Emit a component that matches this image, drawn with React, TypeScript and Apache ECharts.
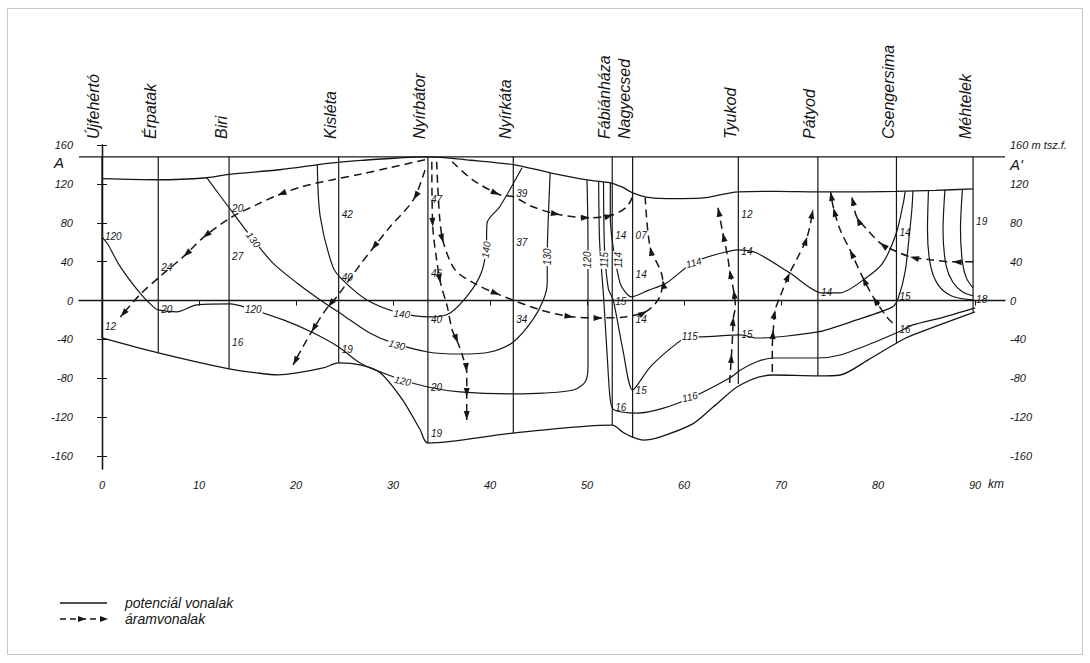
import React, { useEffect, useRef } from "react";
import * as echarts from "echarts";

type P = [number, number];

// ---------- axes ----------
const kmTicks = [0, 10, 20, 30, 40, 50, 60, 70, 80, 90];
const elevTicks = [-160, -120, -80, -40, 0, 40, 80, 120, 160];
const kmMin = -2.371;
const kmMax = 93.09;
const elevMin = -173.4;
const elevMax = 160.2;

// ---------- wells (boreholes) ----------
const towns = ["Újfehértó", "Érpatak", "Biri", "Kisléta", "Nyírbátor", "Nyírkáta", "Fábiánháza", "Nagyecsed", "Tyukod", "Pátyod", "Csengersima", "Méhtelek"];
const wellKm = [0, 5.8, 13.1, 24.4, 33.6, 42.4, 52.6, 54.7, 65.6, 73.8, 81.9, 89.8];
const wellBottom = [-38.5, -53.9, -70.4, -64.2, -146.7, -136.4, -128.2, -140.5, -85.9, -77.6, -43.6, -11.6];
const datumElev = 148;

// ---------- boundaries ----------
const surface: P[] = [[0, 125.5], [5.8, 124.4], [10.8, 126.5], [13.1, 130], [18.3, 134.7], [23.5, 141.5], [27, 144.5], [30.5, 146.8], [33.6, 148], [38, 144.5], [42.4, 140], [46.2, 131.6], [50, 124.4], [52.4, 121.3], [53.6, 117], [54.7, 111], [56.5, 106], [59, 105], [61.7, 105.5], [65.6, 112], [69.7, 112.5], [73.7, 112], [77.8, 112], [81.9, 112.5], [85.9, 113.5], [89.8, 115]];
const aquiferBase: P[] = [[0, -38.5], [5.8, -53.9], [13.1, -70.4], [16, -74.5], [18.1, -76.4], [20.1, -74.5], [22.8, -69.4], [24.4, -64.2], [26.6, -66.3], [28.7, -74.5], [31, -102.4], [32.8, -133], [33.6, -146.7], [42.4, -136.4], [52.6, -128.2], [53.7, -135.5], [54.7, -140.5], [55.8, -143.6], [57.5, -140.5], [60.9, -127], [63, -109.6], [65.8, -86.9], [69.2, -76.6], [73.8, -77.6], [76.1, -76.6], [78.9, -61.5], [82.1, -42.6], [83.6, -35.4], [90, -11.6]];

// ---------- potential lines (potenciál vonalak) ----------
const pot120: P[] = [[0, 65.7], [0.6, 58], [1.9, 34.7], [3.9, 7.9], [5.3, -6.5], [5.8, -9.6], [7.7, -11.6], [9.8, -4.4], [13.2, -3.4], [15.3, -8.6], [18.7, -19.9], [21.6, -32.3], [24.4, -47.7], [26.6, -64.2], [30.4, -79.7], [33.6, -89], [36.9, -94], [42.4, -96], [45.5, -95.2], [48.6, -92.1], [49.8, -83.8], [50.1, -68], [50.1, 0.7], [50.1, 60], [50, 124.4]];
const pot130: P[] = [[10.8, 126.5], [13.1, 95.6], [15.6, 62.6], [17.6, 38.9], [20.1, 18.2], [22.5, 0.7], [25, -16], [27.6, -33.3], [30, -43.6], [33.6, -52.9], [36.9, -55], [40, -52.9], [42.4, -42.6], [44.4, -19.9], [45.5, 0.7], [45.9, 18.2], [45.9, 45.1], [46, 83], [46.2, 131.6]];
const pot140: P[] = [[22.2, 140], [22.5, 86.3], [23.8, 34.7], [24.8, 21.3], [27.3, 0.7], [30.7, -12.7], [33.9, -16.8], [35.9, -12.7], [37.9, 7.9], [39.1, 28.6], [39.6, 52.3], [39.7, 80], [41, 96.6], [43.3, 136.8]];
const pot116: P[] = [[51.2, 122.5], [51.3, 60], [51.7, 5], [52.1, -60], [52.4, -102.4], [52.8, -112.7], [55.2, -115.8], [57.8, -111], [60.9, -99.3], [64.7, -79.7], [65.8, -71.7], [67.5, -63], [69.2, -59.1], [73.8, -59.1], [76.1, -56], [79.1, -45], [82.1, -32.3], [83.6, -25], [86.8, -17], [90, -7.5]];
const pot115: P[] = [[51.7, 122], [51.8, 55], [52.2, 12], [52.7, 0.7], [53.7, -50.8], [54.7, -92.1], [56.5, -68.5], [59.3, -43.8], [60.6, -37.4], [61.6, -37.4], [65.8, -35.4], [67.5, -38.5], [73.8, -32.3], [77.8, -19.9], [81.5, -6.5], [82.1, 3], [82.8, 30], [83.2, 65], [83.5, 95], [83.6, 113]];
const pot114: P[] = [[52.4, 121.3], [52.4, 86.3], [53.4, 18.2], [54.6, 3.8], [56.3, 10.5], [58.2, 18.2], [60.9, 38.9], [63.3, 47.5], [65.6, 52.3], [67.5, 49], [70.9, 28.6], [74.2, 7.9], [76.1, 7.9], [78.9, 24.4], [80.5, 38.9], [81.9, 69.8], [82.6, 100], [82.8, 112.5]];
const potFanA: P[] = [[85.2, 113.5], [85.1, 72.9], [85.4, 36.8], [86.2, 16.2], [87.6, 4.8], [89.8, 0.7]];
const potFanB: P[] = [[86.9, 114], [86.7, 72.9], [87, 36.8], [87.7, 19.2], [88.7, 9], [89.8, 4.8]];
const potFanC: P[] = [[88.7, 114.5], [88.5, 72.9], [88.7, 39.9], [89.1, 23.4], [89.8, 13]];

// ---------- flow lines (áramvonalak) ----------
const flow1: P[] = [[33.3, 145], [29.7, 137], [26.6, 130], [23.8, 124.5], [20.7, 117.5], [18.1, 108.5], [16, 99], [13.2, 85], [10.4, 64.6], [8.4, 45.3], [6, 25], [3.9, 6], [1.9, -16.8]];
const flow2: P[] = [[33.3, 134.5], [32.1, 103.8], [29.7, 76], [27.8, 52.3], [26.6, 36.8], [24.2, 3.8], [23.3, -6.5], [22.5, -17.8], [21.6, -32.3], [20.7, -47.7], [19.7, -66.3]];
const flow3: P[] = [[34, 143], [34.1, 76], [34.5, 42], [34.9, 18.2], [35.6, -6.5], [36.1, -30.2], [36.7, -43.6], [37.2, -58], [37.6, -73.5], [37.6, -99.3], [37.6, -123]];
const flow4: P[] = [[34.5, 143], [34.8, 86.3], [35.2, 59.5], [36.4, 31.6], [38.3, 18.2], [41, 5.9], [45.2, -9.6], [48.6, -16.8], [51.6, -17.8], [53.9, -16.8], [56.2, -10.6], [57.5, 3.8], [57.8, 21.3], [56.5, 55.4], [56, 106]];
const flow5: P[] = [[36.1, 143], [38.2, 124.4], [41, 109], [42.4, 106.9], [44.4, 96.6], [47.2, 88.4], [50.3, 85.3], [52.7, 88.4], [54.1, 96.6], [54.7, 106.9]];
const flow6: P[] = [[64.7, -84.8], [64.9, -54.9], [65, -37.4], [65.1, -16.8], [65.3, -6.5], [65.1, 11], [64.7, 31.6], [64.5, 45.1], [64, 69.8], [63.5, 95.6]];
const flow7: P[] = [[69.1, -73.5], [69.1, -47.7], [69.2, -30.2], [69.4, -9.6], [69.9, 3.8], [70.9, 28.6], [71.6, 42], [72.7, 65.7], [73.3, 93.5]];
const flow8: P[] = [[81.5, -23], [80.9, -16.8], [79.5, 3.8], [78.4, 24.4], [77.1, 52.3], [76.1, 72.9], [75.4, 95.6], [75.1, 112]];
const flow9: P[] = [[89.8, 39.9], [87.7, 39.9], [85.4, 42], [83.3, 45.1], [81.5, 52.3], [80.2, 59.5], [78.9, 72.9], [77.8, 86.3], [77.3, 106.9]];
const flows = [flow1, flow2, flow3, flow4, flow5, flow6, flow7, flow8, flow9];
const arrowAt = [[5, 8, 9, 12], [1, 3, 6, 8, 10], [1, 3, 6, 8, 9, 10], [2, 5, 7, 8, 10, 12, 13], [2, 5, 6, 7], [1, 3, 5, 6, 8, 9], [2, 3, 5, 7, 8], [2, 3, 4, 6, 7], [1, 3, 5, 7, 8]];

// ---------- annotations ----------
const wellNotes: [number, number, string][] = [[0, 65.7, "120"], [0, -26.3, "12"], [5.8, 33.6, "24"], [5.8, -9.6, "20"], [13.1, 94.5, "20"], [13.1, 45, "27"], [13.1, -43.6, "16"], [24.4, 88.4, "42"], [24.4, 23.4, "40"], [24.4, -50.8, "19"], [33.6, 103.8, "47"], [33.6, 27.5, "46"], [33.6, -19.9, "40"], [33.6, -89, "20"], [33.6, -136.4, "19"], [42.4, 110, "39"], [42.4, 59.5, "37"], [42.4, -19.9, "34"], [52.6, 66.7, "14"], [52.6, -1.3, "15"], [52.6, -109.6, "16"], [54.7, 66.7, "07"], [54.7, 26.5, "14"], [54.7, -19.9, "14"], [54.7, -92.1, "15"], [65.6, 88.4, "12"], [65.6, 50.2, "14"], [65.6, -35.4, "15"], [73.8, 7.9, "14"], [81.9, 69.8, "14"], [81.9, 3.8, "15"], [81.9, -30.2, "16"], [89.8, 81, "19"], [89.8, 0.7, "18"]];
const contourNotes: [number, number, string][] = [[15.6, -9.6, "120"], [15.6, 62.6, "130"], [30.9, -13.9, "140"], [30.4, -45.7, "130"], [31, -82.8, "120"], [39.6, 52.3, "140"], [45.9, 45.1, "130"], [50.05, 42, "120"], [51.85, 42, "115"], [53.2, 42, "114"], [61, 38.9, "114"], [60.6, -37.4, "115"], [60.6, -99.3, "116"]];
const contourAngles = [0, -52, -5, -14, -12, 82, 90, 90, 90, 90, 16, 0, 14];

const ink = "#161616";
const font = "'Liberation Sans', 'DejaVu Sans', sans-serif";

export default function App() {
  const ref = useRef<HTMLDivElement>(null);
  useEffect(() => {
    const chart = echarts.init(ref.current!, null, { renderer: "svg" });

    const solid = (data: P[], smooth: number | boolean, width = 1.2) => ({
      type: "line", data, symbol: "none", smooth, silent: true, z: 3,
      lineStyle: { color: ink, width },
    });
    const dashed = (data: P[]) => ({
      type: "line", data, symbol: "none", smooth: 0.3, silent: true, z: 3,
      lineStyle: { color: ink, width: 1.5, type: [8, 5] },
    });

    const wellSeries = wellKm.map((k, i) => solid([[k, datumElev], [k, wellBottom[i]]], false, 1.2));

    const arrowItems: number[][] = [];
    flows.forEach((f, fi) => {
      arrowAt[fi].forEach((i) => {
        const prev = f[i - 1];
        const tip = f[i];
        const dir = i < f.length - 1 ? f[i + 1] : tip;
        arrowItems.push([prev[0], prev[1], dir[0], dir[1], tip[0], tip[1]]);
      });
    });

    const option: any = {
      animation: false,
      backgroundColor: "#fff",
      grid: { left: 79, right: 85, top: 145, bottom: 194 },
      xAxis: [
        {
          type: "value", min: kmMin, max: kmMax, position: "bottom",
          axisLine: { show: true, lineStyle: { color: ink, width: 1.3 } },
          axisTick: { show: true, customValues: kmTicks, length: 5, lineStyle: { color: ink } },
          axisLabel: { customValues: kmTicks, margin: 10, fontSize: 11, fontStyle: "italic", color: ink, fontFamily: font },
          splitLine: { show: false },
        },
        {
          type: "value", min: kmMin, max: kmMax, position: "top",
          axisLine: { show: false }, axisTick: { show: false }, splitLine: { show: false },
          axisLabel: {
            customValues: wellKm, rotate: 90, margin: 6, verticalAlign: "bottom",
            formatter: (v: number) => {
              const idx = wellKm.findIndex((k) => Math.abs(k - v) < 1e-6);
              return idx >= 0 ? towns[idx] : "";
            },
            fontSize: 16, fontStyle: "italic", color: ink, fontFamily: font,
          },
        },
      ],
      yAxis: [
        {
          type: "value", min: elevMin, max: elevMax, position: "left",
          axisLine: { show: true, lineStyle: { color: ink, width: 1.3 } },
          axisTick: { show: true, customValues: elevTicks, length: 5, lineStyle: { color: ink } },
          axisLabel: { customValues: elevTicks, margin: 6, fontSize: 11, fontStyle: "italic", color: ink, fontFamily: font },
          splitLine: { show: false },
        },
        {
          type: "value", min: elevMin, max: elevMax, position: "right",
          axisLine: { show: true, lineStyle: { color: ink, width: 1.3 } },
          axisTick: { show: true, customValues: elevTicks, length: 5, lineStyle: { color: ink } },
          axisLabel: {
            customValues: elevTicks, margin: 5, fontSize: 11, fontStyle: "italic", color: ink, fontFamily: font,
            formatter: (v: number) => (v === 160 ? "160 m tsz.f." : String(v)),
          },
          splitLine: { show: false },
        },
      ],
      series: [
        solid([[kmMin, datumElev], [kmMax, datumElev]], false, 1.3),
        ...wellSeries,
        solid(surface, 0.3, 1.3),
        solid(aquiferBase, 0.3, 1.3),
        solid(pot120, 0.3),
        solid(pot130, 0.3),
        solid(pot140, 0.3),
        solid(pot116, 0.25),
        solid(pot115, 0.25),
        solid(pot114, 0.25),
        solid(potFanA, 0.3),
        solid(potFanB, 0.3),
        solid(potFanC, 0.3),
        ...flows.map(dashed),
        {
          type: "custom", silent: true, z: 4, clip: false,
          data: arrowItems,
          encode: { x: [0, 2, 4], y: [1, 3, 5] },
          renderItem: (_params: any, api: any) => {
            const a = api.coord([api.value(0), api.value(1)]);
            const b = api.coord([api.value(2), api.value(3)]);
            const t = api.coord([api.value(4), api.value(5)]);
            const dx = b[0] - a[0];
            const dy = b[1] - a[1];
            const len = Math.hypot(dx, dy) || 1;
            const ux = dx / len;
            const uy = dy / len;
            const L = 9;
            const W = 3;
            const bx = t[0] - ux * L;
            const by = t[1] - uy * L;
            return {
              type: "polygon",
              shape: { points: [[t[0], t[1]], [bx - uy * W, by + ux * W], [bx + uy * W, by - ux * W]] },
              style: { fill: ink },
            };
          },
        },
        {
          type: "custom", silent: true, z: 5, clip: false,
          data: wellNotes.map((n) => [n[0], n[1]]),
          encode: { x: 0, y: 1 },
          renderItem: (params: any, api: any) => {
            const p = api.coord([api.value(0), api.value(1)]);
            return {
              type: "text", x: p[0] + 3, y: p[1],
              style: { text: wellNotes[params.dataIndex][2], fill: ink, fontSize: 10, fontStyle: "italic", fontFamily: font, align: "left", verticalAlign: "middle" },
            };
          },
        },
        {
          type: "custom", silent: true, z: 6, clip: false,
          data: contourNotes.map((n) => [n[0], n[1]]),
          encode: { x: 0, y: 1 },
          renderItem: (params: any, api: any) => {
            const p = api.coord([api.value(0), api.value(1)]);
            const i = params.dataIndex;
            return {
              type: "text", x: p[0], y: p[1], rotation: (contourAngles[i] * Math.PI) / 180,
              style: { text: contourNotes[i][2], fill: ink, fontSize: 10, fontStyle: "italic", fontFamily: font, align: "center", verticalAlign: "middle", backgroundColor: "#fff", padding: [0, 1] },
            };
          },
        },
      ],
      graphic: [
        { type: "rect", silent: true, z: -10, shape: { x: 7.5, y: 8.5, width: 1075, height: 646 }, style: { fill: "none", stroke: "#c8c8c8", lineWidth: 1 } },
        { type: "text", x: 59, y: 162, style: { text: "A", fontSize: 15, fontStyle: "italic", fill: ink, fontFamily: font, align: "center", verticalAlign: "middle" } },
        { type: "text", x: 1010, y: 164, style: { text: "A'", fontSize: 15, fontStyle: "italic", fill: ink, fontFamily: font, align: "left", verticalAlign: "middle" } },
        { type: "text", x: 988, y: 484, style: { text: "km", fontSize: 12, fontStyle: "italic", fill: ink, fontFamily: font, align: "left", verticalAlign: "middle" } },
        { type: "line", shape: { x1: 60, y1: 603, x2: 107, y2: 603 }, style: { stroke: ink, lineWidth: 1.3 } },
        { type: "text", x: 125, y: 603, style: { text: "potenciál vonalak", fontSize: 14, fontStyle: "italic", fill: ink, fontFamily: font, align: "left", verticalAlign: "middle" } },
        { type: "line", shape: { x1: 60, y1: 619, x2: 105, y2: 619 }, style: { stroke: ink, lineWidth: 1.3, lineDash: [6, 4] } },
        { type: "polygon", shape: { points: [[86, 619], [78, 616], [78, 622]] }, style: { fill: ink } },
        { type: "polygon", shape: { points: [[108, 619], [100, 616], [100, 622]] }, style: { fill: ink } },
        { type: "text", x: 125, y: 619, style: { text: "áramvonalak", fontSize: 14, fontStyle: "italic", fill: ink, fontFamily: font, align: "left", verticalAlign: "middle" } },
      ],
    };
    chart.setOption(option);
    return () => chart.dispose();
  }, []);
  return (
    <div
      ref={ref}
      style={{ position: "absolute", left: 0, top: 0, width: 1090, height: 663, background: "#fff" }}
    />
  );
}
